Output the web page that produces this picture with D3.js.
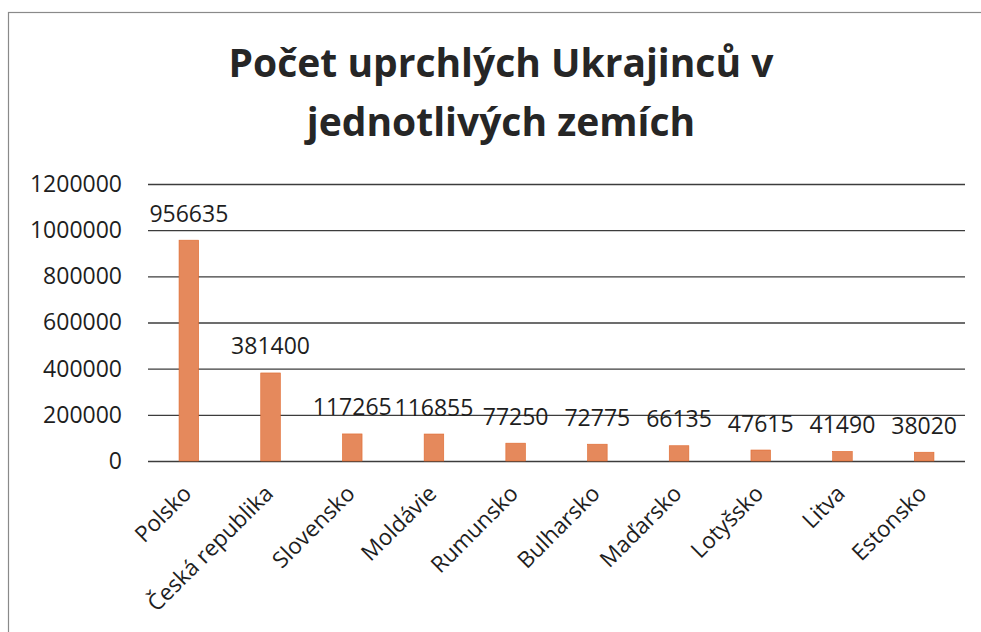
<!DOCTYPE html>
<html>
<head>
<meta charset="utf-8">
<script src="https://cdn.jsdelivr.net/npm/d3@7"></script>
<style>
  html, body { margin: 0; padding: 0; background: #fff; }
  text { font-family: "Open Sans", "DejaVu Sans", sans-serif; fill: #1e1e1e; }
</style>
</head>
<body>
<div id="chart"></div>
<script>
(function () {

    var countries = ["Polsko", "Česká republika", "Slovensko", "Moldávie", "Rumunsko",
                     "Bulharsko", "Maďarsko", "Lotyšsko", "Litva", "Estonsko"];
    var refugees = [956635, 381400, 117265, 116855, 77250, 72775, 66135, 47615, 41490, 38020];
    var y_ticks = [0, 200000, 400000, 600000, 800000, 1000000, 1200000];
    var title_lines = ["Počet uprchlých Ukrajinců v", "jednotlivých zemích"];

    var width = 981, height = 632;
    var left = 148, right = 965, top = 184, bottom = 461;

    var svg = d3.select("#chart").append("svg")
        .attr("width", width)
        .attr("height", height);

    // outer frame (only left and top edges fall inside the picture)
    svg.append("rect")
        .attr("x", 8.5).attr("y", 12.5)
        .attr("width", 1200).attr("height", 1200)
        .style("fill", "none")
        .style("stroke", "#8a8a8a")
        .style("stroke-width", 1.2);

    svg.selectAll(".title")
        .data(title_lines)
        .enter()
        .append("text")
        .attr("class", "title")
        .attr("x", 501)
        .attr("y", function (d, i) { return 77 + i * 59; })
        .attr("text-anchor", "middle")
        .style("font-size", "39px")
        .style("font-weight", "bold")
        .style("fill", "#262626")
        .text(function (d) { return d; });

    var x = d3.scaleBand()
        .domain(countries)
        .range([left, right])
        .paddingInner(0.76)
        .paddingOuter(0.38);

    var y = d3.scaleLinear()
        .domain([0, 1200000])
        .range([bottom, top]);

    // gridlines + y labels
    var yAxis = d3.axisLeft(y)
        .tickValues(y_ticks)
        .tickSize(-(right - left))
        .tickPadding(26)
        .tickFormat(d3.format("d"));

    var gy = svg.append("g")
        .attr("transform", "translate(" + left + ",0)")
        .call(yAxis);
    gy.select(".domain").remove();
    gy.selectAll(".tick line")
        .style("stroke", "#3c3c3c")
        .style("stroke-width", 1.3);
    gy.selectAll(".tick text")
        .style("font-size", "23px")
        .style("font-family", "'Open Sans', sans-serif")
        .style("fill", "#1e1e1e");

    svg.selectAll(".bar")
        .data(refugees)
        .enter()
        .append("rect")
        .attr("class", "bar")
        .attr("x", function (d, i) { return x(countries[i]); })
        .attr("y", function (d) { return y(d); })
        .attr("width", x.bandwidth())
        .attr("height", function (d) { return y(0) - y(d); })
        .style("fill", "#e5895c")
        .style("stroke", "#e0692e")
        .style("stroke-width", 0.6);

    svg.selectAll(".value")
        .data(refugees)
        .enter()
        .append("text")
        .attr("class", "value")
        .attr("x", function (d, i) { return x(countries[i]) + x.bandwidth() / 2; })
        .attr("y", function (d) { return y(d) - 18.5; })
        .attr("text-anchor", "middle")
        .style("font-size", "23px")
        .text(function (d) { return d; });

    svg.selectAll(".cat")
        .data(countries)
        .enter()
        .append("text")
        .attr("class", "cat")
        .attr("transform", function (d) {
            return "translate(" + (x(d) + x.bandwidth() / 2 + 4) + ",495) rotate(-45)";
        })
        .attr("text-anchor", "end")
        .style("font-size", "22.5px")
        .text(function (d) { return d; });
})();
</script>
</body>
</html>
